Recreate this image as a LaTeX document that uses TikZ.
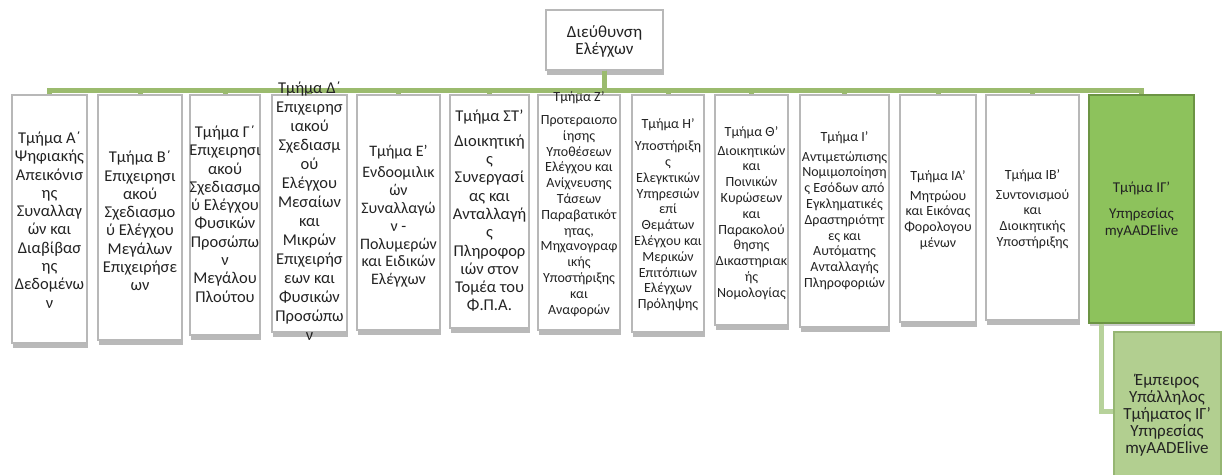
\documentclass[tikz,border=0pt]{standalone}
\usepackage{fontspec}
\setmainfont{Carlito}
\usetikzlibrary{shadows,calc}
\definecolor{conn}{RGB}{155,187,110}
\definecolor{connlight}{RGB}{183,210,155}
\definecolor{gfill}{RGB}{141,194,92}
\definecolor{gdraw}{RGB}{108,148,68}
\definecolor{lgfill}{RGB}{178,207,144}
\definecolor{lgdraw}{RGB}{150,182,115}
\definecolor{txtc}{RGB}{35,35,35}
\tikzset{
  wbox/.style={draw=black!28, line width=1.6pt, fill=white, inner sep=0pt,
    drop shadow={shadow xshift=1pt, shadow yshift=-5pt, fill=black!50, opacity=0.55}},
  gbox/.style={draw=gdraw, line width=1.2pt, fill=gfill, inner sep=0pt,
    drop shadow={shadow xshift=1pt, shadow yshift=-3pt, fill=black!50, opacity=0.4}},
  lgbox/.style={draw=lgdraw, line width=1.2pt, fill=lgfill, inner sep=0pt},
  connector/.style={draw=conn, line width=5pt},
  subconn/.style={draw=connlight, line width=5pt},
  txt/.style={align=center, inner sep=0pt, text=txtc},
  big/.style={font=\fontsize{16.5}{18.3}\selectfont},
  small/.style={font=\fontsize{14}{15.8}\selectfont},
}
\newcommand\mkbox[6]{%
  \node[#6, minimum width={(#3-#2)*1pt}, minimum height={(#5-#4)*1pt}]
    (#1) at ({(#2+#3)/2},{(#4+#5)/2}) {};}
\begin{document}
\begin{tikzpicture}[x=1pt,y=-1pt]
\useasboundingbox (0,0) rectangle (1225,474);
\clip (0,0) rectangle (1225,474);
% boxes
\mkbox{top}{546}{663}{10}{70}{wbox}
\mkbox{b1}{12}{87}{95}{343}{wbox}
\mkbox{b2}{98}{182}{95}{340}{wbox}
\mkbox{b3}{190}{260}{95}{335}{wbox}
\mkbox{b4}{272}{347}{95}{332}{wbox}
\mkbox{b5}{357}{440}{95}{330}{wbox}
\mkbox{b6}{450}{529}{95}{328}{wbox}
\mkbox{b7}{538}{620}{95}{330}{wbox}
\mkbox{b8}{632}{704}{95}{332}{wbox}
\mkbox{b9}{715}{788}{95}{325}{wbox}
\mkbox{b10}{800}{889}{95}{327}{wbox}
\mkbox{b11}{900}{976}{95}{322}{wbox}
\mkbox{b12}{986}{1079}{95}{320}{wbox}
\mkbox{b13}{1089}{1194}{95}{323}{gbox}
\mkbox{bot}{1114}{1221}{332}{490}{lgbox}
% connectors
\coordinate (bar) at (0,90);
\coordinate (sx) at (1101,0);
\foreach \b in {b1,b2,b3,b4,b5,b6,b7,b8,b9,b10,b11,b12,b13}
  \draw[connector] (top.south) -- (top.south |- bar) -| (\b.north);
\draw[subconn] (b13.south -| sx) |- (bot.west);
% texts
\node[txt,font=\fontsize{17}{17}\selectfont] (ttop) at (604.5,41.5) {Διεύθυνση\\Ελέγχων};
\node[txt,big] (t1) at (49.5,220) {Τμήμα Α΄\\Ψηφιακής\\Απεικόνισ\\ης\\Συναλλαγ\\ών και\\Διαβίβασ\\ης\\Δεδομένω\\ν};
\node[txt,big] (t2) at (140,221) {Τμήμα Β΄\\Επιχειρησι\\ακού\\Σχεδιασμο\\ύ Ελέγχου\\Μεγάλων\\Επιχειρήσε\\ων};
\node[txt,big] (t3) at (225,214) {Τμήμα Γ΄\\Επιχειρησι\\ακού\\Σχεδιασμο\\ύ Ελέγχου\\Φυσικών\\Προσώπω\\ν\\Μεγάλου\\Πλούτου};
\node[txt,font=\fontsize{16.5}{19}\selectfont] (t4) at (309.5,211) {Τμήμα Δ΄\\Επιχειρησ\\ιακού\\Σχεδιασμ\\ού\\Ελέγχου\\Μεσαίων\\και\\Μικρών\\Επιχειρήσ\\εων και\\Φυσικών\\Προσώπω\\ν};
\node[txt,font=\fontsize{16}{17.8}\selectfont] (t5) at (398.5,216) {Τμήμα Ε'\\[4pt]Ενδοομιλικ\\ών\\Συναλλαγώ\\ν -\\Πολυμερών\\και Ειδικών\\Ελέγχων};
\node[txt,big] (t6) at (489.5,211) {Τμήμα ΣΤ'\\[6pt]Διοικητική\\ς\\Συνεργασί\\ας και\\Ανταλλαγή\\ς\\Πληροφορ\\ιών στον\\Τομέα του\\Φ.Π.Α.};
\node[txt,small] (t7) at (579,204) {Τμήμα Ζ'\\[7pt]Προτεραιοπο\\ίησης\\Υποθέσεων\\Ελέγχου και\\Ανίχνευσης\\Τάσεων\\Παραβατικότ\\ητας,\\Μηχανογραφ\\ικής\\Υποστήριξης\\και\\Αναφορών};
\node[txt,small] (t8) at (668,215) {Τμήμα Η'\\[6pt]Υποστήριξη\\ς\\Ελεγκτικών\\Υπηρεσιών\\επί\\Θεμάτων\\Ελέγχου και\\Μερικών\\Επιτόπιων\\Ελέγχων\\Πρόληψης};
\node[txt,small] (t9) at (751.5,213) {Τμήμα Θ'\\[3pt]Διοικητικών\\και\\Ποινικών\\Κυρώσεων\\και\\Παρακολού\\θησης\\Δικαστηριακ\\ής\\Νομολογίας};
\node[txt,small] (t10) at (844.5,210.5) {Τμήμα Ι'\\[4pt]Αντιμετώπισης\\Νομιμοποίηση\\ς Εσόδων από\\Εγκληματικές\\Δραστηριότητ\\ες και\\Αυτόματης\\Ανταλλαγής\\Πληροφοριών};
\node[txt,small] (t11) at (938,210) {Τμήμα ΙΑ'\\[4pt]Μητρώου\\και Εικόνας\\Φορολογου\\μένων};
\node[txt,small] (t12) at (1032.5,209) {Τμήμα ΙΒ'\\[4pt]Συντονισμού\\και\\Διοικητικής\\Υποστήριξης};
\node[txt,font=\fontsize{15}{16.7}\selectfont] (t13) at (1141.5,210) {Τμήμα ΙΓ'\\[9pt]Υπηρεσίας\\myAADElive};
\node[txt,font=\fontsize{17}{17}\selectfont] (tbot) at (1167,415) {Έμπειρος\\Υπάλληλος\\Τμήματος ΙΓ'\\Υπηρεσίας\\myAADElive};
\end{tikzpicture}
\end{document}
